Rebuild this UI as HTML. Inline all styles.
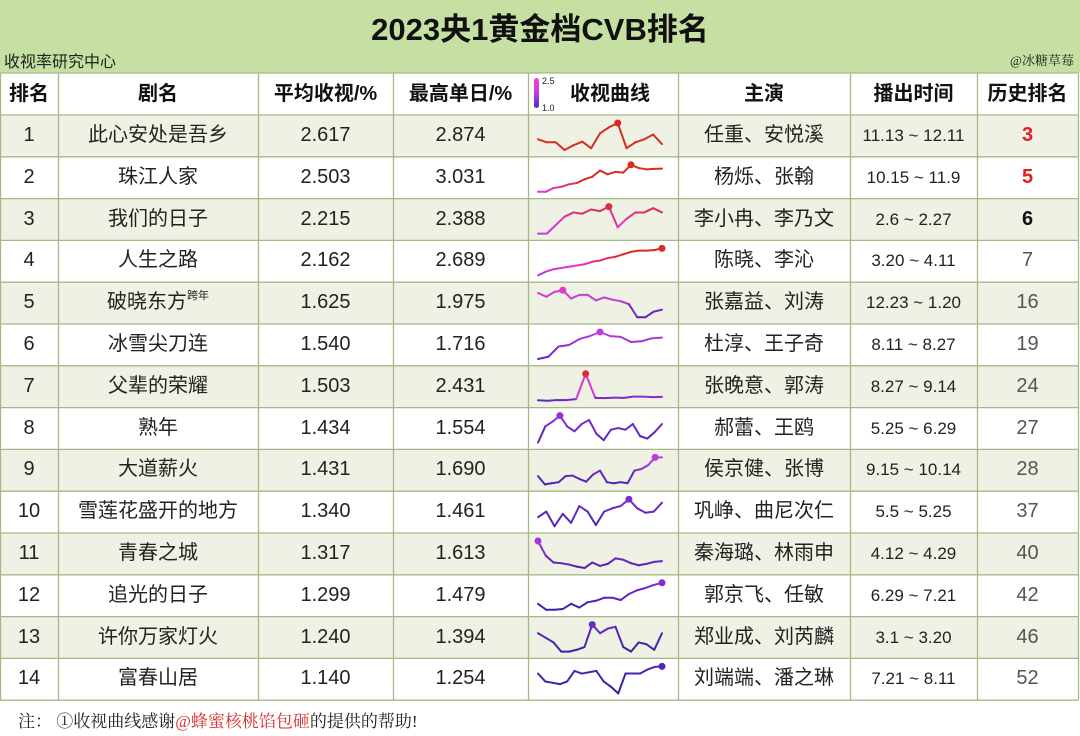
<!DOCTYPE html>
<html><head><meta charset="utf-8">
<style>
*{margin:0;padding:0;box-sizing:border-box}
body{width:1080px;height:736px;background:#fff;font-family:"Liberation Sans","Noto Sans CJK SC",sans-serif;position:relative;overflow:hidden}
#band{position:absolute;left:0;top:0;width:1080px;height:73px;background:#c6dfa2}
#title{position:absolute;left:0;top:4px;width:1080px;text-align:center;font-size:31px;font-weight:bold;color:#111}
#src{position:absolute;left:4px;top:48px;font-size:16px;color:#222}
#credit{position:absolute;right:6px;top:50px;font-size:13px;color:#222;font-family:"Liberation Serif","Noto Serif CJK SC",serif}
.c{position:absolute;display:block;text-align:center;color:#222;white-space:nowrap}
.h{font-weight:bold;font-size:20px;color:#111}
.v{font-size:20px}
.d{font-size:17px}
#note{position:absolute;left:18px;top:707px;font-size:17px;font-family:"Liberation Serif","Noto Serif CJK SC",serif;color:#222}
#note span{color:#d83030}
svg{position:absolute;left:0;top:0}
#table{position:absolute;left:0;top:0;width:1080px;height:736px;z-index:2}
#svg2{z-index:3}
</style></head><body>
<div id="band"></div>
<div id="title">2023央1黄金档CVB排名</div>
<div id="src">收视率研究中心</div>
<div id="credit">@冰糖草莓</div>
<svg id="svg" width="1080" height="736"></svg>
<div id="table"></div>
<svg id="svg2" width="1080" height="736"></svg>
<div id="note">注：&nbsp;①收视曲线感谢<span>@蜂蜜核桃馅包砸</span>的提供的帮助!</div>
<script>
const ranks=[1,2,3,4,5,6,7,8,9,10,11,12,13,14];
const titles=["此心安处是吾乡","珠江人家","我们的日子","人生之路","破晓东方","冰雪尖刀连","父辈的荣耀","熟年","大道薪火","雪莲花盛开的地方","青春之城","追光的日子","许你万家灯火","富春山居"];
const avgs=["2.617","2.503","2.215","2.162","1.625","1.540","1.503","1.434","1.431","1.340","1.317","1.299","1.240","1.140"];
const peaks=["2.874","3.031","2.388","2.689","1.975","1.716","2.431","1.554","1.690","1.461","1.613","1.479","1.394","1.254"];
const actors=["任重、安悦溪","杨烁、张翰","李小冉、李乃文","陈晓、李沁","张嘉益、刘涛","杜淳、王子奇","张晚意、郭涛","郝蕾、王鸥","侯京健、张博","巩峥、曲尼次仁","秦海璐、林雨申","郭京飞、任敏","郑业成、刘芮麟","刘端端、潘之琳"];
const dates=["11.13 ~ 12.11","10.15 ~ 11.9","2.6 ~ 2.27","3.20 ~ 4.11","12.23 ~ 1.20","8.11 ~ 8.27","8.27 ~ 9.14","5.25 ~ 6.29","9.15 ~ 10.14","5.5 ~ 5.25","4.12 ~ 4.29","6.29 ~ 7.21","3.1 ~ 3.20","7.21 ~ 8.11"];
const histRanks=["3","5","6","7","16","19","24","27","28","37","40","42","46","52"];
const curves=[
[2.60,2.55,2.55,2.42,2.50,2.56,2.45,2.70,2.80,2.874,2.45,2.55,2.60,2.68,2.52],
[1.95,1.95,2.10,2.15,2.25,2.30,2.45,2.55,2.80,2.65,2.75,2.72,3.031,2.90,2.85,2.87,2.88],
[1.75,1.75,1.95,2.15,2.25,2.22,2.32,2.28,2.388,1.90,2.10,2.25,2.25,2.35,2.25],
[1.60,1.75,1.85,1.90,1.95,2.00,2.05,2.15,2.20,2.30,2.35,2.45,2.55,2.60,2.60,2.62,2.689],
[1.90,1.80,1.93,1.975,1.75,1.85,1.85,1.70,1.78,1.72,1.68,1.60,1.25,1.25,1.40,1.45],
[1.35,1.38,1.52,1.54,1.62,1.66,1.716,1.66,1.65,1.58,1.59,1.63,1.64],
[1.35,1.33,1.36,1.36,1.40,2.431,1.45,1.44,1.46,1.45,1.50,1.50,1.48,1.49],
[1.22,1.42,1.48,1.554,1.42,1.36,1.45,1.50,1.33,1.25,1.38,1.40,1.38,1.45,1.30,1.27,1.35,1.45],
[1.35,1.20,1.22,1.24,1.35,1.36,1.30,1.25,1.38,1.45,1.24,1.22,1.24,1.22,1.45,1.48,1.55,1.69,1.69],
[1.30,1.35,1.22,1.33,1.25,1.40,1.35,1.23,1.35,1.38,1.40,1.461,1.38,1.34,1.35,1.43],
[1.613,1.40,1.30,1.29,1.27,1.24,1.22,1.30,1.25,1.28,1.36,1.34,1.29,1.26,1.28,1.31,1.32],
[1.20,1.12,1.12,1.13,1.20,1.15,1.22,1.24,1.28,1.28,1.25,1.33,1.38,1.41,1.45,1.479],
[1.30,1.25,1.20,1.10,1.10,1.12,1.15,1.394,1.30,1.35,1.37,1.15,1.10,1.20,1.18,1.12,1.30],
[1.20,1.14,1.13,1.12,1.14,1.22,1.20,1.21,1.22,1.14,1.10,1.05,1.20,1.20,1.20,1.23,1.25,1.254]
];
const headers=["排名","剧名","平均收视/%","最高单日/%","收视曲线","主演","播出时间","历史排名"];
const colX=[0,58,258,393,528,678,850,977,1078];
const headTop=73,headH=42,rowTop=115,rowH=41.8;
const NS="http://www.w3.org/2000/svg";
const svg=document.getElementById('svg');
const svg2=document.getElementById('svg2');
const tbl=document.getElementById('table');
function rect(p,x,y,w,h,f){const r=document.createElementNS(NS,'rect');r.setAttribute('x',x);r.setAttribute('y',y);r.setAttribute('width',w);r.setAttribute('height',h);r.setAttribute('fill',f);p.appendChild(r);return r;}
for(let i=0;i<ranks.length;i++){
  const r=rect(svg,0,rowTop+i*rowH,1078,rowH,i%2===0?'#eef1e3':'#ffffff');
  
  
}
{const r=rect(svg,0,headTop,1078,headH,'#ffffff');}
function line(p,x1,y1,x2,y2,c,w){const l=document.createElementNS(NS,'line');l.setAttribute('x1',x1);l.setAttribute('y1',y1);l.setAttribute('x2',x2);l.setAttribute('y2',y2);l.setAttribute('stroke',c);l.setAttribute('stroke-width',w);p.appendChild(l);return l;}
const bottom=rowTop+ranks.length*rowH;
for(let i=0;i<=ranks.length;i++){const l=line(svg,0,rowTop+i*rowH,1078,rowTop+i*rowH,'#a7b888',1.3);}
{const l=line(svg,0,headTop,1078,headTop,'#a7b888',1.3);}
colX.forEach(x=>{const l=line(svg,x+0.5,headTop,x+0.5,bottom,'#a7b888',1.3);});
const defs=document.createElementNS(NS,'defs');
defs.innerHTML='<linearGradient id="lg" x1="0" y1="0" x2="0" y2="1"><stop offset="0" stop-color="#ff40d0"/><stop offset="0.5" stop-color="#c040e0"/><stop offset="1" stop-color="#4030c0"/></linearGradient>';
svg2.appendChild(defs);
{const r=rect(svg2,534,78,5,30,'url(#lg)');r.setAttribute('rx',2.5);}
function txt(x,y,s,size){const t=document.createElementNS(NS,'text');t.setAttribute('x',x);t.setAttribute('y',y);t.setAttribute('font-size',size);t.setAttribute('font-family','Liberation Sans, sans-serif');t.setAttribute('fill','#222');t.textContent=s;svg2.appendChild(t);return t;}
{const t=txt(542,84,'2.5',9);}
{const t=txt(542,111,'1.0',9);}
function cell(x,y,w,h,cls,html){const d=document.createElement('div');d.className='c '+cls;d.style.left=x+'px';d.style.top=y+'px';d.style.width=w+'px';d.style.height=h+'px';d.style.lineHeight=h+'px';d.innerHTML=html;tbl.appendChild(d);return d;}
headers.forEach((h,j)=>{
  let x=colX[j],w=colX[j+1]-colX[j];
  if(j===4){x+=14;w-=14;}
  const d=cell(x,headTop,w,headH,'h',h);
  
  
});
const stops=[[1.0,[40,30,150]],[1.4,[110,40,200]],[1.7,[190,60,225]],[2.0,[225,55,200]],[2.3,[225,45,90]],[2.5,[215,45,30]],[4,[215,45,30]]];
function col(v){for(let k=0;k<stops.length-1;k++){const a=stops[k],b=stops[k+1];if(v<=b[0]){const t=Math.max(0,(v-a[0])/(b[0]-a[0]));const c=a[1].map((q,m)=>Math.round(q+(b[1][m]-q)*t));return 'rgb('+c.join(',')+')';}}return 'rgb(215,45,30)';}
const sx0=538,sx1=662;
for(let i=0;i<ranks.length;i++){
  const y=rowTop+i*rowH;
  const vals=[ranks[i],titles[i],avgs[i],peaks[i],'',actors[i],dates[i],histRanks[i]];
  const names=['rank-cell','title-cell','average-rating-cell','peak-rating-cell','','actors-cell','airdate-cell','history-rank-cell'];
  vals.forEach((v,j)=>{
    if(j===4)return;
    let html=String(v),cls=j===6?'d':'v';
    if(j===1&&i===4)html=v+'<sup style="font-size:11px;line-height:0;position:relative;top:-2px">跨年</sup>';
    const d=cell(colX[j],y,colX[j+1]-colX[j],rowH,cls,html);
    if(j===7){if(i<2){d.style.color='#e02020';d.style.fontWeight='bold';}else if(i===2){d.style.color='#111';d.style.fontWeight='bold';}else d.style.color='#555';}
    
    
  });
  const c=curves[i];const mn=Math.min(...c),mx=Math.max(...c);
  const yt=y+8,yb=y+35;
  const X=k=>sx0+(sx1-sx0)*k/(c.length-1);
  const Y=v=>yb-(yb-yt)*(v-mn)/(mx-mn);
  const g=document.createElementNS(NS,'g');
  
  
  svg2.appendChild(g);
  for(let k=0;k<c.length-1;k++){
    const l=document.createElementNS(NS,'line');
    l.setAttribute('x1',X(k));l.setAttribute('y1',Y(c[k]));l.setAttribute('x2',X(k+1));l.setAttribute('y2',Y(c[k+1]));
    l.setAttribute('stroke',col((c[k]+c[k+1])/2));l.setAttribute('stroke-width',2);l.setAttribute('stroke-linecap','round');
    
    
    g.appendChild(l);
  }
  const pk=c.indexOf(mx);
  const dot=document.createElementNS(NS,'circle');
  dot.setAttribute('cx',X(pk));dot.setAttribute('cy',Y(mx));dot.setAttribute('r',3.5);dot.setAttribute('fill',col(mx));
  
  
  g.appendChild(dot);
}
</script>
</body></html>
